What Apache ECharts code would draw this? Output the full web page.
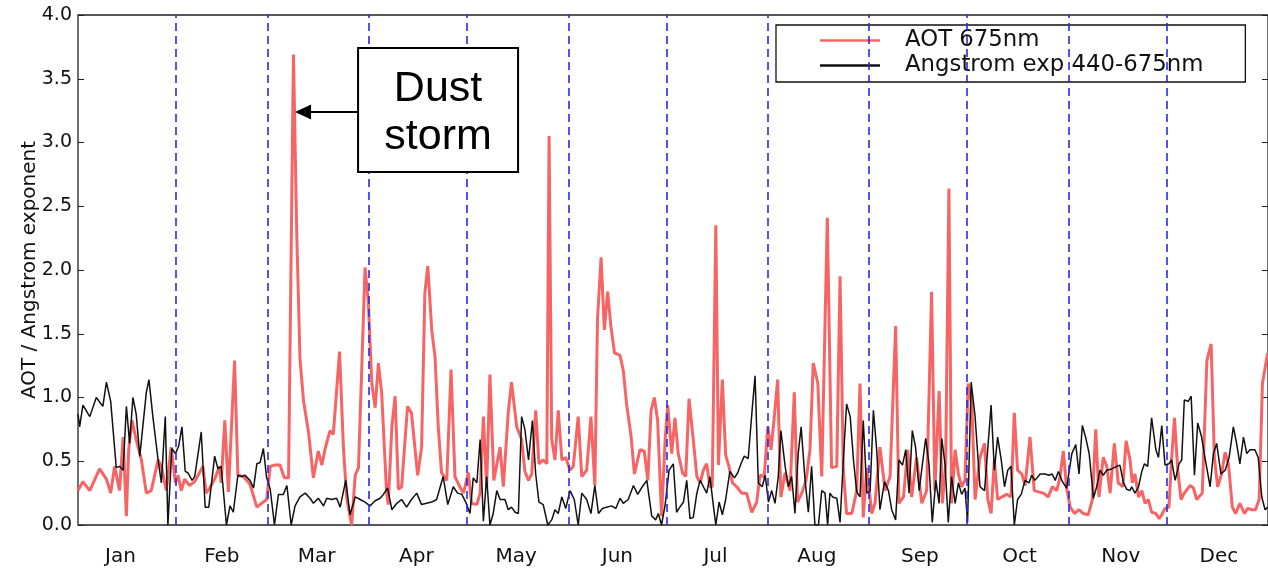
<!DOCTYPE html>
<html>
<head>
<meta charset="utf-8">
<script src="https://cdn.jsdelivr.net/npm/echarts@6/dist/echarts.min.js"></script>
<style>html,body{margin:0;padding:0;background:#fff}#c{width:1268px;height:571px}</style>
</head>
<body>
<div id="c"></div>
<script>
const months = ['Jan','Feb','Mar','Apr','May','Jun','Jul','Aug','Sep','Oct','Nov','Dec'];
const monthLabelDays = [14,45,74,104.5,135,166,196,227,258.5,289,320,350];
const monthStartDays = [31,59,90,120,151,181,212,243,273,304,334];
const seriesNames = ['AOT 675nm','Angstrom exp 440-675nm'];
const dustStormPoint = [67.4, 3.24];
const annotationLines = ['Dust','storm'];

const aotPoints = [
[1,0.27],[2.5,0.34],[4.6,0.27],[7.6,0.44],[9.7,0.36],[11,0.25],[12.2,0.46],[13.7,0.27],[14.8,0.69],[15.8,0.07],[16.5,0.59],[17.5,0.82],[18.8,0.67],[20.4,0.51],[21.9,0.25],[23.4,0.27],[25.5,0.51],[26.5,0.46],[28,0.27],[29.5,0.61],[30.8,0.33],[31.6,0.39],[32.6,0.27],[33.6,0.36],[35.1,0.31],[36.7,0.34],[39.2,0.46],[40.2,0.25],[41.3,0.29],[42.8,0.36],[44.3,0.46],[44.8,0.33],[45.9,0.82],[47,0.26],[48.9,1.29],[49.9,0.39],[51.6,0.38],[53.6,0.32],[55.7,0.14],[57.7,0.18],[58.7,0.20],[59.8,0.46],[61.3,0.47],[62.8,0.47],[64.1,0.37],[65.4,0.37],[66.9,3.69],[67.9,2.30],[68.9,1.30],[70,0.97],[71.5,0.73],[73,0.37],[74.5,0.58],[75.6,0.47],[76.6,0.60],[78.1,0.74],[79.1,0.71],[81,1.36],[82.2,0.60],[83.2,0.21],[84.7,0.0],[85.8,0.39],[86.8,0.45],[88.8,2.02],[89.8,1.75],[90.9,1.10],[91.9,0.92],[92.9,1.27],[93.9,1.03],[95.4,0.25],[95.9,0.16],[97,0.77],[98,1.01],[99,0.28],[100,0.30],[101.8,0.93],[103,0.88],[104.9,0.39],[106.1,0.61],[107.1,1.82],[108,2.03],[109.2,1.53],[110.2,1.32],[111.2,0.77],[112.2,0.41],[113.8,0.35],[115.1,1.22],[116.3,0.38],[117.8,0.30],[118.9,0.25],[120.4,0.41],[121.4,0.17],[123,0.16],[124,0.25],[125,0.85],[126,0.30],[127,1.18],[128.2,0.35],[130.1,0.61],[131.1,0.30],[132.6,0.88],[133.6,1.12],[135.2,0.77],[136.7,0.67],[137.7,0.42],[138.8,0.35],[139.8,0.40],[141,0.90],[142,0.48],[143.3,0.51],[144.4,0.48],[145.1,3.05],[145.9,0.67],[146.9,0.51],[147.9,0.90],[149,0.51],[150.2,0.53],[151.5,0.43],[152.5,0.46],[154,0.85],[155.1,0.38],[156.6,0.43],[157.9,0.85],[159.1,0.31],[159.9,1.61],[161,2.10],[162,1.53],[163,1.83],[164,1.56],[165.1,1.35],[166.8,1.33],[167.8,1.21],[168.8,0.95],[170.2,0.69],[171.2,0.40],[172.9,0.59],[174.2,0.58],[175.3,0.35],[176.3,0.90],[177.3,1.00],[178.3,0.82],[179.5,0.07],[180.6,0.67],[181.4,0.94],[182.6,0.56],[183.6,0.84],[184.6,0.56],[185.9,0.41],[186.9,0.38],[187.9,0.99],[189.2,0.67],[190.3,0.38],[191.3,0.33],[192.3,0.43],[193.3,0.48],[194.3,0.30],[195,0.30],[196.1,2.35],[196.9,0.47],[198.1,1.14],[199.1,0.55],[200.1,0.46],[201.2,0.33],[202.5,0.30],[204,0.25],[205.5,0.25],[207.1,0.10],[208.6,0.18],[209.6,0.39],[210.9,0.38],[212,0.77],[213,0.59],[214,0.85],[215,1.14],[216,0.22],[217.3,0.41],[218.8,0.27],[220.1,1.04],[221.1,0.18],[222.4,0.25],[223.7,0.35],[224.9,0.59],[225.9,1.27],[227.3,1.11],[228.5,0.38],[230.2,2.41],[231.5,0.45],[233.1,0.46],[234.1,1.95],[235.1,0.43],[236.1,0.09],[237.7,0.09],[239.2,0.27],[240.2,1.11],[241.2,0.06],[242.3,0.45],[243.8,0.09],[244.8,0.17],[246.3,0.61],[247.9,0.27],[249.4,0.38],[251.1,1.56],[252.1,0.17],[253.5,0.22],[254.8,0.59],[256,0.22],[257.5,0.53],[259.1,0.17],[260.6,0.27],[262.1,1.83],[263.1,0.27],[264.4,1.05],[265.4,0.17],[266.4,0.48],[267.4,2.64],[268.2,0.17],[269.3,0.59],[270.3,0.40],[271.3,0.30],[272.3,0.35],[273.3,1.11],[274.4,0.95],[275.4,0.20],[276.9,0.53],[278.3,0.64],[279.3,0.20],[280.3,0.09],[281.3,0.51],[282.3,0.20],[283.6,0.22],[285.1,0.24],[286.4,0.22],[287.4,0.88],[288.4,0.43],[289.7,0.40],[290.7,0.31],[292.2,0.69],[293.5,0.27],[294.8,0.26],[296.3,0.25],[297.8,0.22],[299,0.30],[300.4,0.27],[301.4,0.38],[302.4,0.58],[303.4,0.29],[304.5,0.14],[305.8,0.09],[307.2,0.12],[308.5,0.09],[310,0.08],[311.3,0.20],[312.3,0.75],[313.3,0.22],[314.6,0.53],[315.7,0.46],[316.7,0.25],[318,0.64],[319.2,0.33],[320.6,0.30],[321.6,0.66],[322.8,0.51],[323.5,0.33],[324.3,0.40],[325.4,0.22],[326.4,0.27],[327.4,0.17],[328.4,0.20],[329.4,0.10],[330.7,0.09],[331.7,0.05],[332.5,0.08],[333.5,0.13],[334.7,0.14],[335.5,0.51],[336.4,0.84],[337.4,0.43],[338.4,0.20],[339.4,0.25],[341.2,0.31],[342.2,0.29],[343.2,0.20],[344.9,0.25],[346.3,1.29],[347.6,1.42],[348.6,0.53],[349.6,0.30],[350.8,0.40],[351.9,0.57],[352.9,0.48],[354.1,0.14],[355.1,0.09],[356.4,0.17],[357.8,0.09],[358.8,0.13],[360,0.12],[361.2,0.12],[362.3,0.20],[363.3,1.11],[364.9,1.35]
];

const angstromPoints = [
[1,0.87],[1.5,0.77],[2.5,0.94],[4.6,0.85],[6.6,1.00],[8.6,0.93],[9.7,1.12],[11,0.97],[12.7,0.45],[13.7,0.46],[14.8,0.43],[15.8,0.93],[16.8,0.64],[17.8,1.00],[18.8,0.87],[19.9,0.54],[21.9,1.04],[22.7,1.14],[23.9,0.85],[25.5,0.51],[26.5,0.33],[27.7,0.85],[28.5,0.0],[29.7,0.60],[30.8,0.56],[31.8,0.62],[32.8,0.77],[33.8,0.42],[34.6,0.41],[35.9,0.35],[36.7,0.38],[38.7,0.73],[39.9,0.14],[41,0.14],[42.8,0.54],[43.8,0.44],[44.8,0.46],[46.4,0.0],[47.5,0.15],[48.5,0.10],[49.9,0.39],[51.1,0.38],[52.1,0.39],[53.6,0.35],[54.7,0.29],[55.7,0.48],[56.7,0.49],[57.7,0.60],[58.7,0.37],[59.8,0.28],[61.1,0.0],[62.3,0.24],[63.8,0.24],[64.9,0.31],[66.2,0.0],[67.4,0.15],[68.9,0.22],[70.5,0.25],[72,0.21],[73,0.17],[74.5,0.21],[76.1,0.15],[77.1,0.21],[78.6,0.20],[80.1,0.21],[81.2,0.14],[82.9,0.35],[84.2,0.08],[85.8,0.22],[87.3,0.20],[88.8,0.18],[90.3,0.15],[91.9,0.19],[93.4,0.21],[94.4,0.24],[95.7,0.29],[97,0.12],[98.5,0.17],[100,0.20],[101.5,0.14],[103,0.20],[104.6,0.25],[106.1,0.16],[107.6,0.17],[109.2,0.18],[110.7,0.20],[111.7,0.29],[112.7,0.38],[114.1,0.16],[115.8,0.30],[117.1,0.25],[118.4,0.24],[119.6,0.18],[120.9,0.09],[121.9,0.37],[123,0.33],[124,0.67],[125,0.03],[126,0.38],[127,0.0],[128,0.09],[129.1,0.27],[130.1,0.20],[131.6,0.20],[132.6,0.12],[133.6,0.14],[134.7,0.10],[135.7,0.09],[136.7,0.85],[137.7,0.75],[138.8,0.51],[140,0.82],[141,0.40],[142,0.18],[143.3,0.16],[144.7,0.0],[145.9,0.04],[146.9,0.12],[147.9,0.09],[149,0.22],[150.2,0.13],[151.5,0.27],[152.8,0.20],[154,0.0],[155.1,0.25],[156.6,0.20],[157.9,0.09],[159.1,0.31],[160.2,0.09],[161.4,0.13],[162.7,0.14],[164.2,0.15],[165.5,0.13],[166.8,0.21],[167.8,0.17],[169.3,0.20],[170.9,0.31],[172.2,0.24],[173.6,0.30],[175,0.35],[176.5,0.07],[177.7,0.04],[178.5,0.09],[179.5,0.0],[180.6,0.16],[181.8,0.43],[183.1,0.48],[184.1,0.10],[185.1,0.14],[186.2,0.18],[187.2,0.35],[188.2,0.05],[189.2,0.06],[190.3,0.25],[191.3,0.35],[192.3,0.30],[193.3,0.25],[194.3,0.38],[195.4,0.14],[196.1,0.0],[197.1,0.18],[198.1,0.08],[199.1,0.20],[200.4,0.42],[201.8,0.37],[202.8,0.41],[203.8,0.48],[204.8,0.54],[206,0.52],[207.1,0.87],[208.1,1.17],[209.1,0.33],[210.3,0.30],[211.2,0.39],[212.2,0.18],[213.2,0.27],[214.2,0.17],[215.2,0.38],[216,0.74],[217.3,0.46],[218.3,0.30],[219.3,0.38],[220.3,0.09],[221.3,0.56],[222.2,0.77],[223.4,0.35],[224.4,0.10],[225.4,0.46],[226.4,0.0],[227.5,0.0],[228.5,0.27],[229.5,0.25],[230.3,0.0],[231,0.25],[231.8,0.22],[233.1,0.21],[234.1,0.02],[235.1,0.51],[236.1,0.95],[237.2,0.85],[238.2,0.51],[239.2,0.26],[240.2,0.22],[241.2,0.82],[242.3,0.25],[243.3,0.27],[244.3,0.90],[245.3,0.59],[246.3,0.12],[247.7,0.34],[248.9,0.27],[249.9,0.12],[251.1,0.04],[252.1,0.51],[253.2,0.47],[254.2,0.59],[255.2,0.25],[256.2,0.74],[257.2,0.61],[258.3,0.27],[259.3,0.48],[260.3,0.68],[261.3,0.48],[262.3,0.02],[263.4,0.35],[264.4,0.17],[265.2,0.68],[266.2,0.48],[267.2,0.02],[268.2,0.38],[269.3,0.17],[270.3,0.33],[271.3,0.24],[272.3,0.29],[273.1,0.02],[274.2,1.12],[275.4,0.85],[276.9,0.30],[278.3,0.27],[280.3,0.94],[281.3,0.43],[282.3,0.69],[283.4,0.51],[284.4,0.30],[285.4,0.43],[286.4,0.46],[287.4,0.0],[288.4,0.20],[289.5,0.24],[290.7,0.35],[291.9,0.33],[292.7,0.39],[293.7,0.35],[295.3,0.40],[296.8,0.40],[298,0.39],[299,0.40],[299.9,0.35],[300.9,0.42],[302.1,0.34],[303.4,0.29],[305,0.56],[306.2,0.63],[307.2,0.40],[308.2,0.78],[309.2,0.69],[310.3,0.56],[311.6,0.21],[312.6,0.30],[313.6,0.43],[314.6,0.39],[315.7,0.43],[317.2,0.44],[318.7,0.46],[319.7,0.47],[320.8,0.33],[321.8,0.28],[322.8,0.27],[323.3,0.30],[324.3,0.25],[325.4,0.30],[326.4,0.42],[327.2,0.48],[328.2,0.46],[329.4,0.84],[330.7,0.59],[331.5,0.53],[332.5,0.78],[333.5,0.47],[334.7,0.48],[335.5,0.51],[336.6,0.35],[337.8,0.48],[338.6,0.51],[339.4,0.98],[340.6,0.97],[341.5,1.01],[342.5,0.39],[343.5,0.80],[344.7,0.69],[345.7,0.53],[347.3,0.30],[348.3,0.56],[349.3,0.64],[350.6,0.40],[351.9,0.43],[353.1,0.53],[354.4,0.77],[355.4,0.64],[356.4,0.48],[357.5,0.69],[358.5,0.56],[359.5,0.59],[361,0.59],[362,0.53],[363.1,0.22],[364.1,0.12],[364.9,0.14]
];

const FONT = 'DejaVu Sans';
const RED = '#f76464', BLACK = '#111';
const chart = echarts.init(document.getElementById('c'), null, {renderer: 'canvas'});

const option = {
  animation: false,
  backgroundColor: '#fff',
  grid: {left: 78, right: 0, top: 15, bottom: 46, show: true, borderColor: '#222', borderWidth: 1.3},
  legend: {
    orient: 'vertical', left: 776, top: 25,
    padding: [4, 42, 5, 44], itemGap: 2, itemWidth: 60, itemHeight: 2.4,
    borderColor: '#111', borderWidth: 1.3, backgroundColor: '#fff', borderRadius: 0,
    textStyle: {fontFamily: FONT, fontSize: 22.8, color: '#111', padding: [0, 0, 0, 20]},
    data: [
      {name: seriesNames[0], icon: 'rect', itemStyle: {color: RED}},
      {name: seriesNames[1], icon: 'rect', itemStyle: {color: BLACK}}
    ],
    selectedMode: false
  },
  xAxis: {
    type: 'value', min: 1, max: 365,
    axisLine: {show: false}, splitLine: {show: false},
    axisTick: {show: false},
    axisLabel: {
      customValues: monthLabelDays, margin: 22,
      fontFamily: FONT, fontSize: 20, color: '#111',
      formatter: function (v) { const i = monthLabelDays.indexOf(v); return i >= 0 ? months[i] : ''; }
    }
  },
  yAxis: [{
    type: 'value', min: 0, max: 4, interval: 0.5,
    name: 'AOT / Angstrom exponent', nameLocation: 'middle', nameGap: 38, nameMoveOverlap: false,
    nameTextStyle: {fontFamily: FONT, fontSize: 20, color: '#111'},
    axisLine: {show: false}, splitLine: {show: false},
    axisTick: {show: true, inside: true, length: 6, lineStyle: {color: '#222'}},
    axisLabel: {margin: 6, fontFamily: FONT, fontSize: 19, color: '#111', formatter: v => v.toFixed(1)}
  }, {
    type: 'value', min: 0, max: 4, interval: 0.5, position: 'right',
    axisLine: {show: false}, splitLine: {show: false}, axisLabel: {show: false},
    axisTick: {show: true, inside: true, length: 6, lineStyle: {color: '#222'}}
  }],
  series: [{
    type: 'line', name: '_months', data: [], silent: true,
    markLine: {
      silent: true, symbol: ['none', 'none'], label: {show: false},
      lineStyle: {color: '#2a2ae8', type: [8, 5], width: 1.6},
      data: monthStartDays.map(d => ({xAxis: d}))
    }
  }, {
    type: 'line', name: seriesNames[0], data: aotPoints, symbol: 'none', z: 3,
    lineStyle: {color: RED, width: 3}, itemStyle: {color: RED}
  }, {
    type: 'line', name: seriesNames[1], data: angstromPoints, symbol: 'none', z: 4,
    lineStyle: {color: BLACK, width: 1.5}, itemStyle: {color: BLACK}
  }]
};
chart.setOption(option);

const tip = chart.convertToPixel({xAxisIndex: 0, yAxisIndex: 0}, dustStormPoint);
const bx = tip[0] + 63, by = tip[1] - 64, bw = 160, bh = 124;
chart.setOption({
  graphic: [
    {type: 'rect', z: 100, shape: {x: bx, y: by, width: bw, height: bh},
     style: {fill: '#fff', stroke: '#000', lineWidth: 2}},
    {type: 'text', z: 101, style: {x: bx + bw / 2, y: by + 41, text: annotationLines[0], fill: '#000',
      font: '43px "Liberation Sans", Arial, sans-serif', textAlign: 'center', textVerticalAlign: 'middle'}},
    {type: 'text', z: 101, style: {x: bx + bw / 2, y: by + 89, text: annotationLines[1], fill: '#000',
      font: '43px "Liberation Sans", Arial, sans-serif', textAlign: 'center', textVerticalAlign: 'middle'}},
    {type: 'line', z: 100, shape: {x1: bx, y1: tip[1], x2: tip[0] + 14, y2: tip[1]},
     style: {stroke: '#000', lineWidth: 2}},
    {type: 'polygon', z: 100, shape: {points: [[tip[0], tip[1]], [tip[0] + 16, tip[1] - 7.5], [tip[0] + 16, tip[1] + 7.5]]},
     style: {fill: '#000'}}
  ]
});
</script>
</body>
</html>
